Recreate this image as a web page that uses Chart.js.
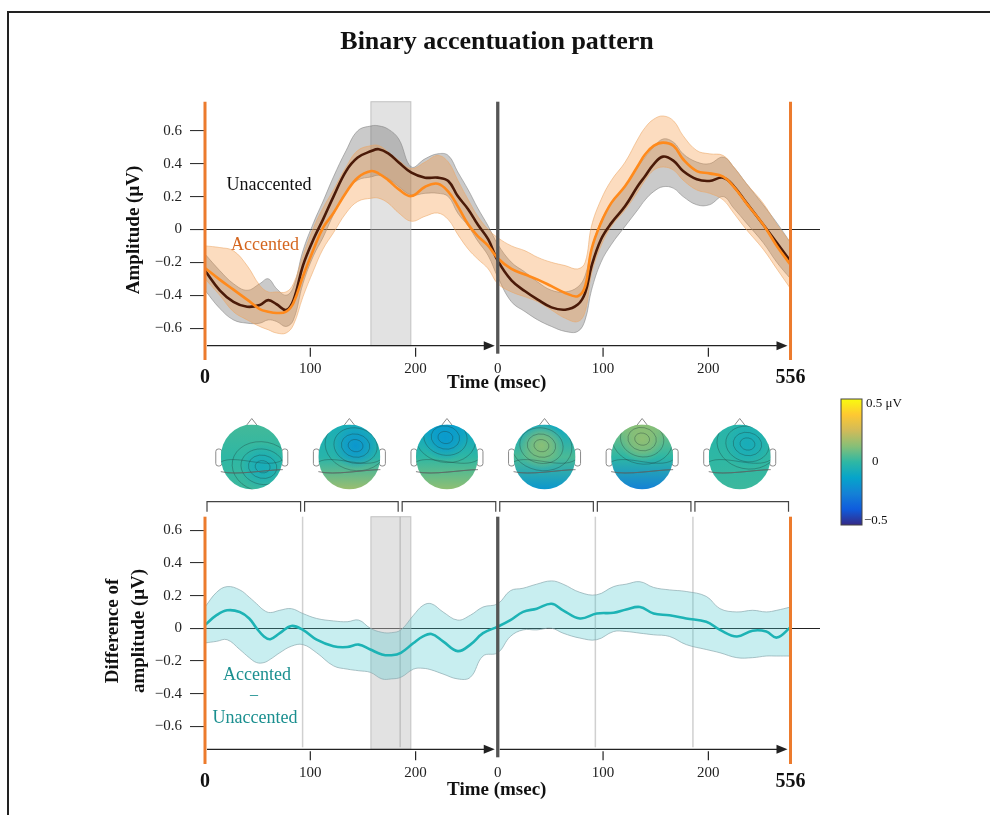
<!DOCTYPE html>
<html>
<head>
<meta charset="utf-8">
<script src="https://cdn.jsdelivr.net/npm/chart.js@4.4.1/dist/chart.umd.min.js"></script>
<style>
  html, body { margin: 0; padding: 0; background: #fff; }
  #page { position: relative; width: 990px; height: 815px; overflow: hidden; }
  #frame { position: absolute; left: 7px; top: 11px; width: 1000px; height: 900px;
           border-top: 2px solid #222; border-left: 2px solid #222; }
  canvas { position: absolute; left: 0; }
  #erp { top: 0; }
  #diff { top: 395px; }
</style>
</head>
<body>
<div id="page">
  <div id="frame"></div>
  <canvas id="erp" width="990" height="395"></canvas>
  <canvas id="diff" width="990" height="420"></canvas>
</div>
<script>
const serif = '"Liberation Serif", "Times New Roman", serif';

// time axis (msec): two beats of 278 ms
const fullSpan = 556;
const beat = 278;
const xTickValues = [100, 200, 278, 378, 478];
const xTickLabels = ['100', '200', '0', '100', '200'];
const yTickValues = [-0.6, -0.4, -0.2, 0, 0.2, 0.4, 0.6];
const windowStart = 157.5;   // shaded window
const windowEnd = 195.5;
const segmentBounds = [92.67, 185.33, 370.67, 463.33];

// ERPs (top panel)
const erpTimes = [0, 14, 27, 40, 52, 60, 68, 77, 84, 93, 103, 112, 122, 134, 145, 158, 165, 174, 184, 196,
  209, 221, 231, 240, 250, 259, 269, 278, 291, 304, 316, 329, 342, 354, 361, 367, 376, 386, 399, 411,
  418, 426, 435, 445, 454, 467, 479, 492, 502, 514, 530, 543, 556];
const unaccented = [-0.25, -0.37, -0.44, -0.47, -0.46, -0.43, -0.455, -0.49, -0.43, -0.22,
  -0.06, 0.06, 0.20, 0.355, 0.437, 0.477, 0.488, 0.463, 0.407, 0.345,
  0.315, 0.315, 0.295, 0.203, 0.122, 0.03, -0.061, -0.19, -0.31, -0.376,
  -0.427, -0.474, -0.488, -0.457, -0.386, -0.224, -0.061, 0.04, 0.142, 0.264,
  0.325, 0.396, 0.443, 0.417, 0.355, 0.305, 0.295, 0.315, 0.264, 0.163,
  0.03, -0.081, -0.193];
const unaccentedUpper = [-0.15, -0.25, -0.33, -0.37, -0.33, -0.30, -0.36, -0.40, -0.35, -0.13,
  0.04, 0.17, 0.32, 0.48, 0.60, 0.63, 0.63, 0.61, 0.55, 0.38,
  0.43, 0.46, 0.45, 0.35, 0.24, 0.13, 0.02, -0.09, -0.20, -0.26,
  -0.32, -0.37, -0.38, -0.35, -0.28, -0.12, 0.05, 0.16, 0.26, 0.38,
  0.44, 0.50, 0.55, 0.53, 0.46, 0.41, 0.40, 0.44, 0.38, 0.28,
  0.15, 0.04, -0.08];
const unaccentedLower = [-0.37, -0.48, -0.55, -0.57, -0.57, -0.55, -0.56, -0.59, -0.55, -0.33,
  -0.16, -0.05, 0.09, 0.23, 0.30, 0.32, 0.33, 0.31, 0.26, 0.21,
  0.22, 0.22, 0.20, 0.10, 0.02, -0.07, -0.16, -0.29, -0.44, -0.50,
  -0.55, -0.59, -0.62, -0.62, -0.55, -0.37, -0.20, -0.09, 0.02, 0.12,
  0.18, 0.23, 0.26, 0.25, 0.20, 0.15, 0.15, 0.20, 0.13, 0.04,
  -0.08, -0.20, -0.30];
const accented = [-0.234, -0.305, -0.366, -0.427, -0.484, -0.50, -0.508, -0.50, -0.447, -0.285,
  -0.122, 0.01, 0.10, 0.225, 0.315, 0.355, 0.34, 0.30, 0.244, 0.203,
  0.26, 0.278, 0.23, 0.142, 0.03, -0.04, -0.10, -0.175, -0.24, -0.274,
  -0.305, -0.345, -0.386, -0.406, -0.345, -0.122, 0.04, 0.163, 0.264, 0.386,
  0.457, 0.508, 0.528, 0.508, 0.427, 0.355, 0.341, 0.321, 0.26, 0.16,
  0.03, -0.10, -0.215];
const accentedUpper = [-0.10, -0.11, -0.13, -0.22, -0.34, -0.38, -0.38, -0.38, -0.33, -0.16,
  0.01, 0.13, 0.24, 0.38, 0.48, 0.51, 0.51, 0.47, 0.42, 0.37,
  0.41, 0.45, 0.41, 0.30, 0.18, 0.08, 0.0, -0.05, -0.10, -0.13,
  -0.17, -0.20, -0.22, -0.24, -0.20, 0.02, 0.18, 0.30, 0.41, 0.55,
  0.62, 0.67, 0.69, 0.66, 0.57, 0.48, 0.46, 0.45, 0.38, 0.28,
  0.16, 0.03, -0.08];
const accentedLower = [-0.30, -0.40, -0.50, -0.55, -0.59, -0.61, -0.63, -0.63, -0.58, -0.41,
  -0.25, -0.12, -0.02, 0.10, 0.17, 0.19, 0.19, 0.16, 0.10, 0.05,
  0.08, 0.10, 0.06, -0.03, -0.12, -0.18, -0.24, -0.33, -0.38, -0.41,
  -0.44, -0.49, -0.54, -0.56, -0.50, -0.27, -0.10, 0.02, 0.12, 0.23,
  0.30, 0.36, 0.38, 0.36, 0.30, 0.24, 0.22, 0.18, 0.10, 0.0,
  -0.12, -0.24, -0.36];

// difference wave (bottom panel)
const diffTimes = [0, 11, 21, 33, 42, 49, 56, 62, 71, 82, 93, 106, 122, 135, 146, 157, 168, 177, 186, 198,
  207, 215, 226, 240, 252, 264, 278, 290, 302, 315, 329, 340, 356, 372, 388, 400, 413, 426, 441, 457,
  476, 489, 505, 520, 533, 543, 556];
const difference = [0.02, 0.08, 0.11, 0.10, 0.06, 0.0, -0.05, -0.067, -0.03, 0.014,
  -0.01, -0.07, -0.11, -0.115, -0.10, -0.13, -0.16, -0.165, -0.15, -0.09,
  -0.05, -0.035, -0.08, -0.14, -0.10, -0.03, 0.01, 0.05, 0.10, 0.12,
  0.15, 0.11, 0.06, 0.09, 0.095, 0.115, 0.13, 0.09, 0.08, 0.06,
  0.04, -0.01, -0.05, -0.015, -0.02, -0.057, 0.006];
const differenceUpper = [0.13, 0.22, 0.255, 0.235, 0.19, 0.15, 0.11, 0.096, 0.11, 0.12,
  0.09, 0.06, 0.045, 0.04, 0.05, 0.0, -0.025, -0.027, -0.01, 0.08,
  0.14, 0.15, 0.10, 0.05, 0.08, 0.13, 0.15, 0.23, 0.245, 0.27,
  0.29, 0.27, 0.22, 0.205, 0.255, 0.27, 0.285, 0.25, 0.235, 0.225,
  0.195, 0.12, 0.10, 0.11, 0.10, 0.11, 0.13];
const differenceLower = [-0.09, -0.08, -0.07, -0.13, -0.18, -0.21, -0.21, -0.19, -0.15, -0.11,
  -0.10, -0.15, -0.23, -0.25, -0.26, -0.27, -0.31, -0.31, -0.30, -0.25,
  -0.245, -0.255, -0.28, -0.31, -0.30, -0.17, -0.15, -0.05, -0.01, -0.01,
  0.0, -0.03, -0.06, -0.07, -0.02, -0.02, -0.03, -0.04, -0.05, -0.10,
  -0.13, -0.15, -0.18, -0.18, -0.17, -0.17, -0.17];

// scalp maps, one per segment (µV at front / middle / back, plus one local extreme)
const topoFront = [0.03, -0.06, -0.13, -0.10, 0.12, -0.02];
const topoMid = [0.0, -0.02, 0.0, 0.04, 0.0, 0.0];
const topoBack = [0.02, 0.16, 0.14, -0.17, -0.25, 0.02];
const topoSpotX = [0.35, 0.2, -0.05, -0.1, 0.0, 0.25];
const topoSpotY = [0.3, -0.35, -0.6, -0.35, -0.55, -0.4];
const topoSpotV = [-0.07, -0.17, -0.16, 0.13, 0.14, -0.07];

const parula = ['#352a87', '#0f5cdd', '#1481d6', '#06a4ca', '#2eb7a4', '#87bf77', '#d1bb59', '#fec832', '#f9fb0e'];

function hexRgb(h) {
  return [parseInt(h.slice(1, 3), 16), parseInt(h.slice(3, 5), 16), parseInt(h.slice(5, 7), 16)];
}
function parulaAt(v, alpha) {
  const t = Math.min(1, Math.max(0, v + 0.5)) * (parula.length - 1);
  const i = Math.min(parula.length - 2, Math.floor(t));
  const f = t - i;
  const a = hexRgb(parula[i]), b = hexRgb(parula[i + 1]);
  const c = a.map((ch, k) => Math.round(ch + (b[k] - ch) * f));
  return `rgba(${c[0]},${c[1]},${c[2]},${alpha === undefined ? 1 : alpha})`;
}

const pts = (t, v) => t.map((x, i) => ({x: x, y: v[i]}));

function label(ctx, str, x, y, font, color, align, angle) {
  ctx.save();
  ctx.font = font;
  ctx.fillStyle = color || '#111';
  ctx.textAlign = align || 'center';
  ctx.textBaseline = 'middle';
  ctx.translate(x, y);
  if (angle) ctx.rotate(angle);
  ctx.fillText(str, 0, 0);
  ctx.restore();
}

function shadeWindow(chart, arrowLevel) {
  const {ctx, chartArea: a, scales: {x, y}} = chart;
  const ay = y.getPixelForValue(arrowLevel);
  const x1 = x.getPixelForValue(windowStart), x2 = x.getPixelForValue(windowEnd);
  ctx.save();
  ctx.fillStyle = 'rgba(190,190,190,0.45)';
  ctx.strokeStyle = 'rgba(165,165,165,0.6)';
  ctx.lineWidth = 1;
  ctx.fillRect(x1, a.top, x2 - x1, ay - a.top);
  ctx.strokeRect(x1, a.top, x2 - x1, ay - a.top);
  ctx.restore();
}

function drawTimeFrame(chart, arrowLevel, titleGap) {
  const {ctx, chartArea: a, scales: {x, y}} = chart;
  const ay = y.getPixelForValue(arrowLevel);
  const x0 = x.getPixelForValue(0), xm = x.getPixelForValue(beat), x1 = x.getPixelForValue(fullSpan);
  ctx.save();
  ctx.strokeStyle = '#222';
  ctx.fillStyle = '#222';
  ctx.lineWidth = 1.2;
  [[x0, xm], [xm, x1]].forEach(([s, e]) => {
    ctx.beginPath(); ctx.moveTo(s + 2, ay); ctx.lineTo(e - 10, ay); ctx.stroke();
    ctx.beginPath(); ctx.moveTo(e - 3, ay); ctx.lineTo(e - 14, ay - 4.5); ctx.lineTo(e - 14, ay + 4.5);
    ctx.closePath(); ctx.fill();
  });
  xTickValues.forEach(v => {
    if (v === beat) return;
    const px = x.getPixelForValue(v);
    ctx.beginPath(); ctx.moveTo(px, ay + 2); ctx.lineTo(px, ay + 11); ctx.stroke();
  });
  ctx.lineWidth = 3.3;
  ctx.strokeStyle = '#555';
  ctx.beginPath(); ctx.moveTo(xm, a.top); ctx.lineTo(xm, ay + 8); ctx.stroke();
  ctx.lineWidth = 3;
  ctx.strokeStyle = '#ec7b2d';
  [x0, x1].forEach(px => { ctx.beginPath(); ctx.moveTo(px, a.top); ctx.lineTo(px, a.bottom); ctx.stroke(); });
  ctx.restore();
  label(ctx, '0', x0, a.bottom + 17.5, `bold 20px ${serif}`, '#111');
  label(ctx, '556', x1, a.bottom + 17.5, `bold 20px ${serif}`, '#111');
  label(ctx, 'Time (msec)', xm - 1, a.bottom + titleGap, `bold 19px ${serif}`, '#111');
}

function drawHead(ctx, cx, cy, k) {
  const rx = 31, ry = 32.5;
  ctx.save();
  ctx.strokeStyle = '#8a8a8a';
  ctx.lineWidth = 1;
  [-1, 1].forEach(s => {
    ctx.beginPath();
    ctx.roundRect(s < 0 ? cx - rx - 5 : cx + rx - 1, cy - 8, 6, 17, 2.5);
    ctx.stroke();
  });
  ctx.beginPath();
  ctx.moveTo(cx - 7, cy - ry + 3); ctx.lineTo(cx, cy - ry - 6); ctx.lineTo(cx + 7, cy - ry + 3);
  ctx.stroke();

  ctx.beginPath();
  ctx.ellipse(cx, cy, rx, ry, 0, 0, Math.PI * 2);
  ctx.save();
  ctx.clip();
  const g = ctx.createLinearGradient(0, cy - ry, 0, cy + ry);
  g.addColorStop(0, parulaAt(topoFront[k]));
  g.addColorStop(0.5, parulaAt(topoMid[k]));
  g.addColorStop(1, parulaAt(topoBack[k]));
  ctx.fillStyle = g;
  ctx.fillRect(cx - rx, cy - ry, 2 * rx, 2 * ry);
  const sx = cx + topoSpotX[k] * rx, sy = cy + topoSpotY[k] * ry;
  const rg = ctx.createRadialGradient(sx, sy, 0, sx, sy, rx * 0.75);
  rg.addColorStop(0, parulaAt(topoSpotV[k], 1));
  rg.addColorStop(0.45, parulaAt(topoSpotV[k], 0.7));
  rg.addColorStop(1, parulaAt(topoSpotV[k], 0));
  ctx.fillStyle = rg;
  ctx.fillRect(cx - rx, cy - ry, 2 * rx, 2 * ry);
  // contour lines
  ctx.strokeStyle = 'rgba(30,60,60,0.45)';
  ctx.lineWidth = 0.8;
  [0.22, 0.42, 0.64, 0.9].forEach(f => {
    ctx.beginPath();
    ctx.ellipse(sx, sy, rx * f * 1.1, ry * f * 0.85, 0.2, 0, Math.PI * 2);
    ctx.stroke();
  });
  [0.15, 0.45].forEach((f, j) => {
    ctx.beginPath();
    ctx.moveTo(cx - rx, cy + f * ry);
    ctx.bezierCurveTo(cx - rx / 2, cy + f * ry - 8 + j * 12, cx + rx / 2, cy + f * ry + 8 - j * 10, cx + rx, cy + f * ry - 2);
    ctx.stroke();
  });
  ctx.restore();
  ctx.strokeStyle = '#666';
  ctx.lineWidth = 0.8;
  ctx.stroke();
  ctx.restore();
}

const erpDecor = {
  id: 'erpDecor',
  beforeDatasetsDraw(chart) { shadeWindow(chart, -0.707); },
  afterDatasetsDraw(chart) {
    const {ctx} = chart;
    drawTimeFrame(chart, -0.707, 23);
    label(ctx, 'Binary accentuation pattern', 497, 42, `bold 26px ${serif}`, '#111');
    label(ctx, 'Amplitude (μV)', 134, 230, `bold 19px ${serif}`, '#111', 'center', -Math.PI / 2);
    label(ctx, 'Unaccented', 269, 185, `18px ${serif}`, '#111');
    label(ctx, 'Accented', 265, 245, `18px ${serif}`, '#d4661f');
  }
};

const diffDecor = {
  id: 'diffDecor',
  beforeDatasetsDraw(chart) {
    const {ctx, chartArea: a, scales: {x, y}} = chart;
    shadeWindow(chart, -0.741);
    const ay = y.getPixelForValue(-0.741);
    ctx.save();
    ctx.strokeStyle = 'rgba(150,150,150,0.45)';
    ctx.lineWidth = 1.5;
    segmentBounds.forEach(v => {
      const px = x.getPixelForValue(v);
      ctx.beginPath(); ctx.moveTo(px, a.top); ctx.lineTo(px, ay - 2); ctx.stroke();
    });
    ctx.restore();
  },
  afterDatasetsDraw(chart) {
    const {ctx} = chart;
    drawTimeFrame(chart, -0.741, 26);
    label(ctx, 'Difference of', 113, 236, `bold 19px ${serif}`, '#111', 'center', -Math.PI / 2);
    label(ctx, 'amplitude (μV)', 139, 236, `bold 19px ${serif}`, '#111', 'center', -Math.PI / 2);
    label(ctx, 'Accented', 257, 280, `18px ${serif}`, '#1a8f8f');
    label(ctx, '–', 254, 300, `16px ${serif}`, '#1a8f8f');
    label(ctx, 'Unaccented', 255, 323, `18px ${serif}`, '#1a8f8f');
  },
  afterDraw(chart) {
    const {ctx, scales: {x}} = chart;
    const bounds = [0].concat(segmentBounds.slice(0, 2), [beat], segmentBounds.slice(2), [fullSpan]);
    ctx.save();
    ctx.strokeStyle = '#444';
    ctx.lineWidth = 1.2;
    for (let k = 0; k < 6; k++) {
      const p1 = x.getPixelForValue(bounds[k]) + 2, p2 = x.getPixelForValue(bounds[k + 1]) - 2;
      ctx.beginPath();
      ctx.moveTo(p1, 116.7); ctx.lineTo(p1, 106.7); ctx.lineTo(p2, 106.7); ctx.lineTo(p2, 116.7);
      ctx.stroke();
      drawHead(ctx, (p1 + p2) / 2 - 2, 62, k);
    }
    ctx.restore();
    // colour bar
    ctx.save();
    const g = ctx.createLinearGradient(0, 4, 0, 130);
    parula.slice().reverse().forEach((c, i) => g.addColorStop(i / (parula.length - 1), c));
    ctx.fillStyle = g;
    ctx.fillRect(841, 4, 21, 126);
    ctx.strokeStyle = '#444';
    ctx.lineWidth = 1;
    ctx.strokeRect(841, 4, 21, 126);
    ctx.restore();
    label(ctx, '0.5 μV', 866, 9, `13px ${serif}`, '#111', 'left');
    label(ctx, '0', 872, 67, `13px ${serif}`, '#111', 'left');
    label(ctx, '−0.5', 864, 126, `13px ${serif}`, '#111', 'left');
  }
};

function yTick(v) {
  if (Math.abs(v) < 1e-9) return '0';
  return (v < 0 ? '−' : '') + Math.abs(v).toFixed(1);
}

function scalesFor(yMin, yMax, xHeight) {
  return {
    x: {
      type: 'linear', min: 0, max: 584,
      afterBuildTicks: s => { s.ticks = xTickValues.map(v => ({value: v})); },
      afterFit: s => { s.height = xHeight; },
      grid: {display: false, drawTicks: false},
      border: {display: false},
      ticks: {
        callback: (v, i) => xTickLabels[i],
        font: {family: serif, size: 15}, color: '#222', padding: 0,
        maxRotation: 0, autoSkip: false
      }
    },
    y: {
      min: yMin, max: yMax,
      afterBuildTicks: s => { s.ticks = yTickValues.map(v => ({value: v})); },
      afterFit: s => { s.width = 105; },
      grid: {
        color: c => (c.tick && Math.abs(c.tick.value) < 1e-9) ? '#222' : 'rgba(0,0,0,0)',
        tickColor: '#333', tickLength: 15, lineWidth: 1.1
      },
      border: {display: false},
      ticks: {callback: yTick, font: {family: serif, size: 15}, color: '#222', padding: 8}
    }
  };
}

const commonOpts = {
  responsive: false,
  animation: false,
  devicePixelRatio: 1,
  plugins: {legend: {display: false}, tooltip: {enabled: false}, title: {display: false}},
  elements: {point: {radius: 0}, line: {tension: 0.4}}
};

new Chart(document.getElementById('erp'), {
  type: 'line',
  data: {
    datasets: [
      {data: pts(erpTimes, unaccentedUpper), fill: '+1', backgroundColor: 'rgba(90,90,90,0.32)',
       borderColor: 'rgba(130,130,130,0.55)', borderWidth: 1, order: 6},
      {data: pts(erpTimes, unaccentedLower), fill: false,
       borderColor: 'rgba(130,130,130,0.55)', borderWidth: 1, order: 5},
      {data: pts(erpTimes, accentedUpper), fill: '+1', backgroundColor: 'rgba(245,150,60,0.33)',
       borderColor: 'rgba(235,165,100,0.55)', borderWidth: 1, order: 4},
      {data: pts(erpTimes, accentedLower), fill: false,
       borderColor: 'rgba(235,165,100,0.55)', borderWidth: 1, order: 3},
      {label: 'Unaccented', data: pts(erpTimes, unaccented), fill: false,
       borderColor: '#4a1a08', borderWidth: 2.6, order: 2},
      {label: 'Accented', data: pts(erpTimes, accented), fill: false,
       borderColor: '#ff8a1c', borderWidth: 2.6, order: 1}
    ]
  },
  options: Object.assign({}, commonOpts, {
    layout: {padding: {left: 100, top: 101.7, right: 170, bottom: 0}},
    scales: scalesFor(-0.794, 0.777, 35)
  }),
  plugins: [erpDecor]
});

new Chart(document.getElementById('diff'), {
  type: 'line',
  data: {
    datasets: [
      {data: pts(diffTimes, differenceUpper), fill: '+1', backgroundColor: 'rgba(72,198,205,0.3)',
       borderColor: 'rgba(140,170,175,0.7)', borderWidth: 1, order: 3},
      {data: pts(diffTimes, differenceLower), fill: false,
       borderColor: 'rgba(140,170,175,0.7)', borderWidth: 1, order: 2},
      {label: 'Accented − Unaccented', data: pts(diffTimes, difference), fill: false,
       borderColor: '#1db3b5', borderWidth: 2.6, order: 1}
    ]
  },
  options: Object.assign({}, commonOpts, {
    layout: {padding: {left: 100, top: 121.7, right: 170, bottom: 0}},
    scales: scalesFor(-0.831, 0.683, 51)
  }),
  plugins: [diffDecor]
});
</script>
</body>
</html>
